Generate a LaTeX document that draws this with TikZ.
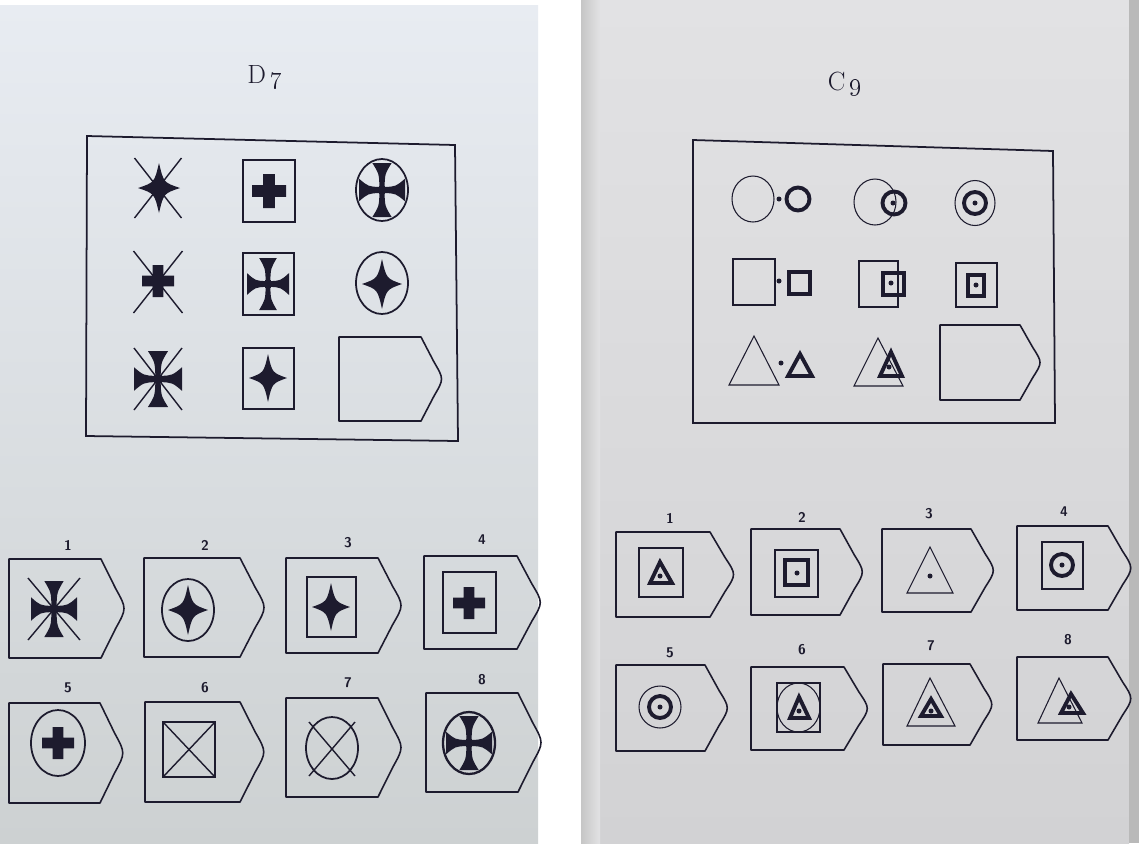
\documentclass[tikz,border=0pt]{standalone}
\usepackage{tikz}
\usetikzlibrary{calc}
\definecolor{ink}{HTML}{1D1B2E}
\definecolor{leftpage}{HTML}{E8ECF2}
\definecolor{leftlow}{HTML}{CDD1D2}
\definecolor{rightpage}{HTML}{E2E2E4}
\definecolor{rightlow}{HTML}{D2D2D4}

\tikzset{
  tagline/.style={draw=ink, line width=0.9pt, line join=round},
  boxline/.style={draw=ink, line width=1pt},
  thinline/.style={draw=ink, line width=0.6pt},
  boldline/.style={draw=ink, line width=2.2pt},
  pip/.style={fill=ink},
  numlabel/.style={font=\sffamily\bfseries\fontsize{8}{9}\selectfont, text=ink},
  pagetitle/.style={font=\fontsize{15}{16}\selectfont, text=ink},
  pics/tag/.style={code={
    \draw[tagline] (0,0) -- (1,0) -- (1.16,0.3) .. controls (1.28,0.5) .. (1.16,0.7)
      -- (1,1) -- (0,1) -- cycle;}},
  pics/fourstar/.style={code={
    \fill[ink] (1,0) .. controls (0.22,0.22) .. (0,1) .. controls (-0.22,0.22) .. (-1,0)
      .. controls (-0.22,-0.22) .. (0,-1) .. controls (0.22,-0.22) .. (1,0) -- cycle;}},
  pics/plus/.style={code={
    \fill[ink] (-1,-0.34) rectangle (1,0.34) (-0.34,-1) rectangle (0.34,1);}},
  pics/pattee/.style={code={
    \fill[ink] (-0.15,-0.15) rectangle (0.15,0.15);
    \foreach \r in {0,90,180,270}{
      \fill[ink, rotate=\r] (0,0.13) -- (0.1,0.11) .. controls (0.6,0.13) .. (1,0.42)
        -- (1,-0.42) .. controls (0.6,-0.13) .. (0.1,-0.11) -- (0,-0.13) -- cycle;}}},
  pics/xlines/.style={code={
    \draw[ink, line width=0.8pt] (-1,-1) -- (1,1) (-1,1) -- (1,-1);}},
}

\begin{document}
\begin{tikzpicture}[x=0.02cm, y=-0.02cm]
  \useasboundingbox (0,0) rectangle (1139,843);
  % pages
  \fill[white] (0,0) rectangle (1139,843);
  \shade[top color=leftpage, bottom color=leftlow] (0,5) rectangle (538,843);
  \shade[top color=rightpage, bottom color=rightlow] (581,0) rectangle (1129,843);
  \shade[left color=gray!45, right color=rightpage] (581,0) rectangle (600,843);
  \fill[gray!55] (1129,0) rectangle (1139,843);

  % ---------- D7 ----------
  \node[pagetitle] (dtitle) at (265,77) {D\,\oldstylenums{7}};
  \draw[boxline] (87,136) -- (455,145) -- (458,441) -- (86,436) -- cycle;

  \pic at (158,188) [xscale=23.5, yscale=30] {xlines};
  \pic at (159,188) [xscale=21, yscale=25] {fourstar};
  \draw[boxline] (243,160) rectangle (295,222);
  \pic at (269,191) [scale=17] {plus};
  \draw[boxline] (382,190) ellipse [x radius=26, y radius=31];
  \pic at (382,190) [xscale=23, yscale=27] {pattee};

  \pic at (158,282) [xscale=24.5, yscale=31] {xlines};
  \pic at (158,281) [scale=16] {plus};
  \draw[boxline] (243,253) rectangle (294,315);
  \pic at (268,284) [xscale=21, yscale=26] {pattee};
  \draw[boxline] (382,283) ellipse [x radius=26, y radius=31];
  \pic at (382,284) [xscale=20, yscale=25] {fourstar};

  \pic at (158,379) [xscale=24, yscale=31] {xlines};
  \pic at (158,379) [xscale=24, yscale=28] {pattee};
  \draw[boxline] (243,348) rectangle (294,409);
  \pic at (268,378) [xscale=19, yscale=24] {fourstar};
  \pic at (339,337) [xscale=82, yscale=84] {tag};

  \node[numlabel] (d1) at (68,545) {1};
  \pic at (9,559) [xscale=92, yscale=99] {tag};
  \pic at (54,609) [xscale=26, yscale=31] {xlines};
  \pic at (54,609) [xscale=23, yscale=28] {pattee};

  \node[numlabel] (d2) at (205,545) {2};
  \pic at (144,558) [xscale=96, yscale=99] {tag};
  \draw[boxline] (188,610) ellipse [x radius=26, y radius=31];
  \pic at (188,610) [xscale=20, yscale=25] {fourstar};

  \node[numlabel] (d3) at (348,543) {3};
  \pic at (286,558) [xscale=92, yscale=95] {tag};
  \draw[boxline] (307,577) rectangle (356,637);
  \pic at (331,607) [xscale=19, yscale=24] {fourstar};

  \node[numlabel] (d4) at (482,540) {4};
  \pic at (424,556) [xscale=93, yscale=93] {tag};
  \draw[boxline] (443,572) rectangle (496,633);
  \pic at (469,603) [scale=16] {plus};

  \node[numlabel] (d5) at (68,688) {5};
  \pic at (9,703) [xscale=91, yscale=100] {tag};
  \draw[boxline] (58,743) ellipse [x radius=27, y radius=33];
  \pic at (58,743) [scale=16] {plus};

  \node[numlabel] (d6) at (205,688) {6};
  \pic at (145,702) [xscale=95, yscale=100] {tag};
  \draw[boxline] (163,722) rectangle (215,777);
  \draw[ink, line width=0.8pt] (163,722) -- (215,777) (163,777) -- (215,722);

  \node[numlabel] (d7) at (348,683) {7};
  \pic at (286,698) [xscale=92, yscale=99] {tag};
  \draw[boxline] (332,748) ellipse [x radius=26, y radius=31];
  \pic at (332,749) [xscale=23, yscale=27] {xlines};

  \node[numlabel] (d8) at (482,680) {8};
  \pic at (426,693) [xscale=92, yscale=99] {tag};
  \draw[draw=ink, line width=1.3pt] (469,743) ellipse [x radius=26, y radius=31];
  \pic at (469,743) [xscale=23, yscale=27] {pattee};

  % ---------- C9 ----------
  \node[pagetitle] (ctitle) at (845,84) {C\,\oldstylenums{9}};
  \draw[boxline] (693,140) -- (1053,151) -- (1055,423) -- (693,423) -- cycle;

  \draw[thinline] (753,199) ellipse [x radius=21, y radius=23];
  \fill[pip] (779,199) circle (2.5);
  \draw[boldline] (798,199) circle (11.5);
  \draw[thinline] (875,202) ellipse [x radius=21, y radius=23];
  \draw[boldline] (894,203) circle (11.5);
  \fill[pip] (893,203) circle (2.5);
  \draw[thinline] (975,203) ellipse [x radius=20, y radius=22.5];
  \draw[boldline] (975,203) circle (11);
  \fill[pip] (975,203) circle (2.5);

  \draw[thinline] (733,259) rectangle (775,305);
  \fill[pip] (779,281) circle (2.5);
  \draw[boldline] (789,272) rectangle (810,294);
  \draw[thinline] (859,261) rectangle (898,307);
  \draw[boldline] (883,273) rectangle (904,295);
  \fill[pip] (891,283) circle (2.5);
  \draw[thinline] (956,263) rectangle (997,307);
  \draw[boldline] (968,275) rectangle (984,296);
  \fill[pip] (976,285) circle (2.5);

  \draw[thinline] (754,336) -- (779,385) -- (729,385) -- cycle;
  \fill[pip] (781,363) circle (2.5);
  \draw[boldline] (800,354) -- (812,376) -- (788,376) -- cycle;
  \draw[thinline] (878,338) -- (903,386) -- (854,386) -- cycle;
  \draw[boldline] (891,352) -- (902,376) -- (880,376) -- cycle;
  \fill[pip] (889,367) circle (2.5);
  \pic at (940,325) [xscale=80, yscale=75] {tag};

  \node[numlabel] (c1) at (670,518) {1};
  \pic at (616,532) [xscale=94, yscale=85] {tag};
  \draw[thinline] (639,548) rectangle (683,597);
  \draw[boldline] (660,562) -- (672,583) -- (650,583) -- cycle;
  \fill[pip] (660,576) circle (2.5);

  \node[numlabel] (c2) at (802,517) {2};
  \pic at (751,529) [xscale=89, yscale=86] {tag};
  \draw[thinline] (775,550) rectangle (818,597);
  \draw[boldline] (785,560) rectangle (808,585);
  \fill[pip] (797,573) circle (2.5);

  \node[numlabel] (c3) at (929,514) {3};
  \pic at (882,529) [xscale=89, yscale=83] {tag};
  \draw[thinline] (930,547) -- (953,593) -- (907,593) -- cycle;
  \fill[pip] (930,576) circle (2.5);

  \node[numlabel] (c4) at (1064,512) {4};
  \pic at (1017,526) [xscale=91, yscale=84] {tag};
  \draw[thinline] (1042,542) rectangle (1083,589);
  \draw[boldline] (1062,565) circle (11);
  \fill[pip] (1062,565) circle (2.5);

  \node[numlabel] (c5) at (670,653) {5};
  \pic at (616,665) [xscale=89, yscale=86] {tag};
  \draw[thinline] (660,707) circle (21);
  \draw[boldline] (660,707) circle (11);
  \fill[pip] (660,707) circle (2.5);

  \node[numlabel] (c6) at (802,650) {6};
  \pic at (751,667) [xscale=93, yscale=83] {tag};
  \draw[thinline] (777,683) rectangle (820,732);
  \draw[thinline] (798.5,707.5) ellipse [x radius=21.5, y radius=24.5];
  \draw[boldline] (799,697) -- (809,718) -- (790,718) -- cycle;
  \fill[pip] (799,711) circle (2.5);

  \node[numlabel] (c7) at (931,646) {7};
  \pic at (883,664) [xscale=87, yscale=81] {tag};
  \draw[thinline] (930,678) -- (955,726) -- (907,726) -- cycle;
  \draw[boldline] (931,699) -- (941,716) -- (921,716) -- cycle;
  \fill[pip] (931,711) circle (2.5);

  \node[numlabel] (c8) at (1068,640) {8};
  \pic at (1017,657) [xscale=91, yscale=83] {tag};
  \draw[thinline] (1059,678) -- (1082,723) -- (1038,723) -- cycle;
  \draw[boldline] (1071,694) -- (1083,713) -- (1061,713) -- cycle;
  \fill[pip] (1069,707) circle (2.5);
\end{tikzpicture}
\end{document}
